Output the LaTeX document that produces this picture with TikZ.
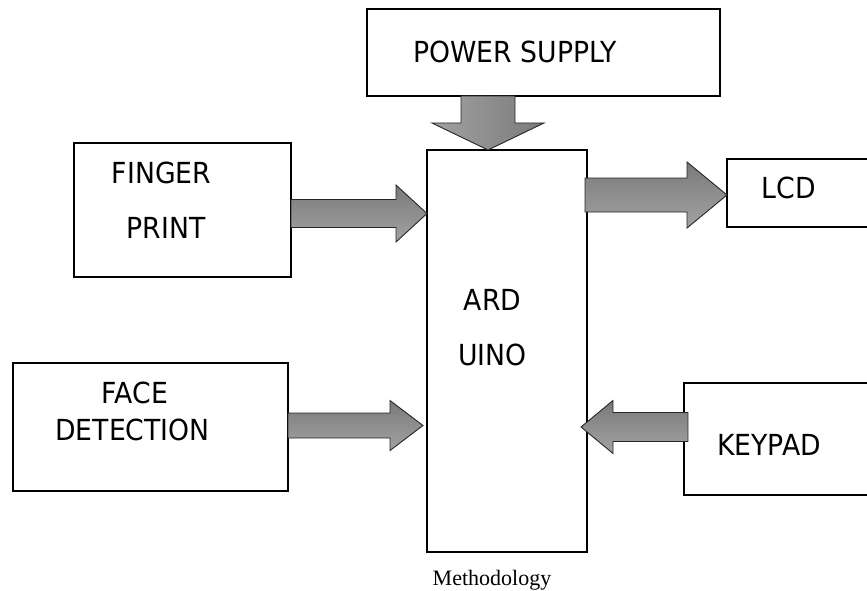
\documentclass[tikz,border=0pt]{standalone}
\usepackage{fontspec}
\setmainfont{DejaVu Sans}[FakeStretch=0.92]
\newfontfamily\capfont{Liberation Serif}
\usetikzlibrary{calc}
\definecolor{arrdark}{RGB}{122,122,122}
\definecolor{arrlight}{RGB}{162,162,162}
\tikzset{
  box/.style={draw=black, line width=2.2pt, fill=none, inner sep=0pt, outer sep=0pt},
  txt/.style={font=\fontsize{29}{34}\selectfont, inner sep=0pt, anchor=base},
  blockarrow/.style={draw=black!85, line width=0.9pt, top color=arrdark, bottom color=arrlight},
  blockarrowv/.style={draw=black!85, line width=0.9pt, left color=arrlight, right color=arrdark},
}
\newcommand\harrow[5]{% start, tip, shaft half, head half, signed head length
  \path[blockarrow] ($(#1)+(0,-#3)$) -- ($(#2)+({-1*(#5)},-#3)$) -- ($(#2)+({-1*(#5)},-#4)$) -- (#2)
    -- ($(#2)+({-1*(#5)},#4)$) -- ($(#2)+({-1*(#5)},#3)$) -- ($(#1)+(0,#3)$) -- cycle;}
\begin{document}
\begin{tikzpicture}[x=1pt,y=-1pt]
\useasboundingbox (0,0) rectangle (867,591);
% boxes
\node[box, minimum width=353pt, minimum height=87pt] (ps) at (543.5,52.5) {};
\node[box, minimum width=160pt, minimum height=402pt] (ard) at (507,351) {};
\node[box, minimum width=217pt, minimum height=134pt] (fp) at (182.5,210) {};
\node[box, minimum width=275pt, minimum height=128pt] (fd) at (150.5,427) {};
\node[box, minimum width=150pt, minimum height=68pt] (lcd) at (802,193) {};
\node[box, minimum width=200pt, minimum height=112pt] (kp) at (784,439) {};
% texts
\node[txt] (tps) at (515,63) {POWER SUPPLY};
\node[txt] (tfp1) at (161.5,183) {FINGER};
\node[txt] (tfp2) at (166,238) {PRINT};
\node[txt] (tfd1) at (135,403) {FACE};
\node[txt] (tfd2) at (132.5,440) {DETECTION};
\node[txt] (tar1) at (492.5,310) {ARD};
\node[txt] (tar2) at (492.5,365) {UINO};
\node[txt] (tlcd) at (789,198) {LCD};
\node[txt] (tkp) at (769,455) {KEYPAD};
\node[font=\capfont\fontsize{22}{26}\selectfont, inner sep=0pt, anchor=base] (cap) at (492,585) {Methodology};
% arrow end points
\coordinate (a1s) at ($(fp.east)+(0,3.5)$);
\coordinate (a1t) at (ard.west |- a1s);
\coordinate (a2s) at ($(fd.east)+(0,-1.5)$);
\coordinate (a2t) at ($(ard.west |- a2s)+(-4,0)$);
\coordinate (a3s) at ($(ard.east |- lcd.west)+(-2,2)$);
\coordinate (a3t) at ($(lcd.west)+(0,2)$);
\coordinate (a4s) at ($(kp.west)+(4,-12)$);
\coordinate (a4t) at ($(ard.east |- a4s)+(-6,0)$);
\coordinate (a5t) at ($(ard.north)+(-19,0)$);
\coordinate (a5s) at (a5t |- ps.south);
% arrows
\harrow{a1s}{a1t}{14}{28.5}{31}
\harrow{a2s}{a2t}{12.5}{25}{33}
\harrow{a3s}{a3t}{17}{33}{40}
\harrow{a4s}{a4t}{14.5}{26.5}{-32}
\path[blockarrowv] ($(a5s)+(-27,0)$) -- ($(a5t)+(-27,-27)$) -- ($(a5t)+(-56,-27)$) -- (a5t)
  -- ($(a5t)+(56,-27)$) -- ($(a5t)+(27,-27)$) -- ($(a5s)+(27,0)$) -- cycle;
\end{tikzpicture}
\end{document}
